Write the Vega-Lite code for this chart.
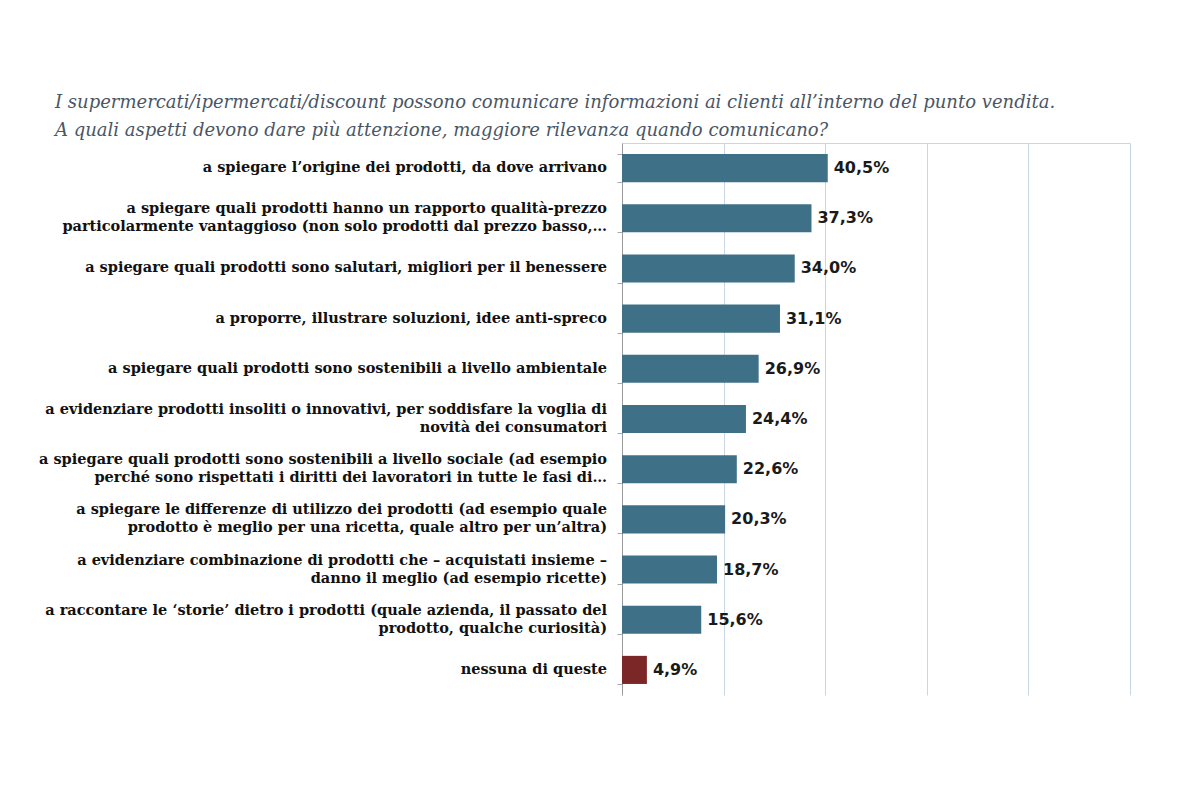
{
  "$schema": "https://vega.github.io/schema/vega-lite/v6.json",
  "width": 508,
  "height": 552,
  "autosize": {"type": "none"},
  "padding": {"left": 622, "top": 143, "right": 70, "bottom": 105},
  "background": "white",
  "config": {
    "locale": {"number": {"decimal": ",", "thousands": ".", "grouping": [3], "currency": ["€", ""]}},
    "view": {"stroke": null}
  },
  "title": {
    "text": [
      "I supermercati/ipermercati/discount possono comunicare informazioni ai clienti all’interno del punto vendita.",
      "A quali aspetti devono dare più attenzione, maggiore rilevanza quando comunicano?"
    ],
    "anchor": "start",
    "frame": "group",
    "dx": -567,
    "offset": 3,
    "font": "DejaVu Serif",
    "fontStyle": "italic",
    "fontWeight": "normal",
    "fontSize": 18,
    "lineHeight": 28,
    "color": "#4a5666"
  },
  "data": {
    "values": [
      {"label": "a spiegare l’origine dei prodotti, da dove arrivano", "pct": 0.405},
      {"label": "a spiegare quali prodotti hanno un rapporto qualità-prezzo\nparticolarmente vantaggioso (non solo prodotti dal prezzo basso,…", "pct": 0.373},
      {"label": "a spiegare quali prodotti sono salutari, migliori per il benessere", "pct": 0.340},
      {"label": "a proporre, illustrare soluzioni, idee anti-spreco", "pct": 0.311},
      {"label": "a spiegare quali prodotti sono sostenibili a livello ambientale", "pct": 0.269},
      {"label": "a evidenziare prodotti insoliti o innovativi, per soddisfare la voglia di\nnovità dei consumatori", "pct": 0.244},
      {"label": "a spiegare quali prodotti sono sostenibili a livello sociale (ad esempio\nperché sono rispettati i diritti dei lavoratori in tutte le fasi di…", "pct": 0.226},
      {"label": "a spiegare le differenze di utilizzo dei prodotti (ad esempio quale\nprodotto è meglio per una ricetta, quale altro per un’altra)", "pct": 0.203},
      {"label": "a evidenziare combinazione di prodotti che – acquistati insieme –\ndanno il meglio (ad esempio ricette)", "pct": 0.187},
      {"label": "a raccontare le ‘storie’ dietro i prodotti (quale azienda, il passato del\nprodotto, qualche curiosità)", "pct": 0.156},
      {"label": "nessuna di queste", "pct": 0.049}
    ]
  },
  "encoding": {
    "y": {
      "field": "label",
      "type": "nominal",
      "sort": null,
      "scale": {"paddingInner": 0.44, "paddingOuter": 0.22},
      "axis": {
        "title": null,
        "labels": false,
        "tickBand": "extent",
        "tickSize": 5,
        "tickColor": "#a8a8a8",
        "domainColor": "#9a9a9a",
        "grid": false
      }
    },
    "x": {
      "field": "pct",
      "type": "quantitative",
      "scale": {"domain": [0, 1]},
      "axis": {
        "orient": "top",
        "title": null,
        "labels": false,
        "ticks": false,
        "values": [0, 0.2, 0.4, 0.6, 0.8, 1],
        "grid": true,
        "gridColor": "#c9d7e4",
        "domainColor": "#c9d7e4"
      }
    }
  },
  "layer": [
    {
      "mark": {"type": "bar"},
      "encoding": {
        "color": {
          "condition": {"test": "datum.label === 'nessuna di queste'", "value": "#7b2727"},
          "value": "#3e7088"
        }
      }
    },
    {
      "mark": {"type": "text", "align": "left", "baseline": "middle", "dx": 6, "font": "DejaVu Sans", "fontWeight": "bold", "fontSize": 16, "color": "#1a1a1a"},
      "encoding": {
        "text": {"field": "pct", "type": "quantitative", "format": ".1%"}
      }
    },
    {
      "mark": {
        "type": "text",
        "align": "right",
        "dx": -15,
        "font": "DejaVu Serif",
        "fontWeight": "bold",
        "fontSize": 14.5,
        "lineHeight": 18,
        "lineBreak": "\n",
        "color": "#111111",
        "baseline": {"expr": "length(datum.label) > 80 ? 'line-bottom' : 'middle'"}
      },
      "encoding": {
        "x": {"datum": 0, "type": "quantitative"},
        "text": {"field": "label", "type": "nominal"}
      }
    }
  ]
}
